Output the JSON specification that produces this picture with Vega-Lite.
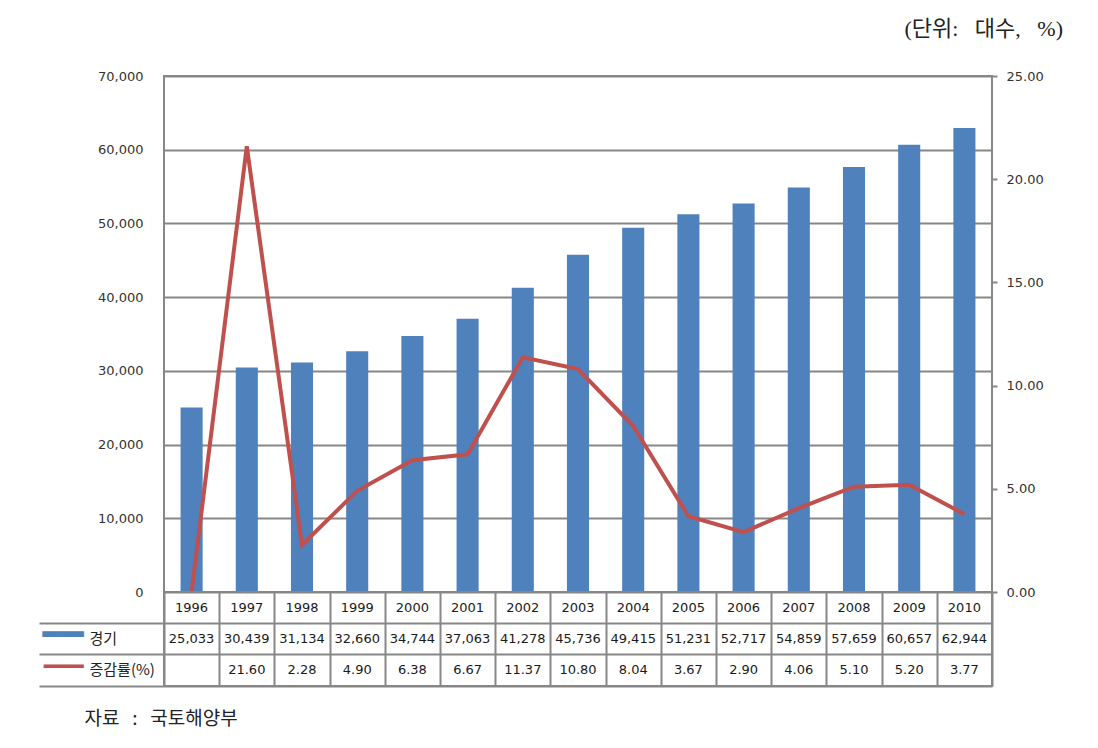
{
  "$schema": "https://vega.github.io/schema/vega-lite/v6.json",
  "padding": {"left": 37, "top": 17, "right": 5, "bottom": 5},
  "background": "white",
  "datasets": {
    "cars": [
      {"year": "1996", "count": 25033, "rate": 0},
      {"year": "1997", "count": 30439, "rate": 21.60},
      {"year": "1998", "count": 31134, "rate": 2.28},
      {"year": "1999", "count": 32660, "rate": 4.90},
      {"year": "2000", "count": 34744, "rate": 6.38},
      {"year": "2001", "count": 37063, "rate": 6.67},
      {"year": "2002", "count": 41278, "rate": 11.37},
      {"year": "2003", "count": 45736, "rate": 10.80},
      {"year": "2004", "count": 49415, "rate": 8.04},
      {"year": "2005", "count": 51231, "rate": 3.67},
      {"year": "2006", "count": 52717, "rate": 2.90},
      {"year": "2007", "count": 54859, "rate": 4.06},
      {"year": "2008", "count": 57659, "rate": 5.10},
      {"year": "2009", "count": 60657, "rate": 5.20},
      {"year": "2010", "count": 62944, "rate": 3.77}
    ]
  },
  "data": {"name": "cars"},
  "bounds": "flush",
  "spacing": 0,
  "vconcat": [
    {
      "width": 828,
      "height": 516,
      "title": {
        "text": "(단위:\u00a0\u00a0\u00a0대수,\u00a0\u00a0\u00a0%)",
        "anchor": "end",
        "frame": "group",
        "dx": 71,
        "offset": 29,
        "font": "Liberation Serif, Noto Sans CJK KR",
        "fontSize": 22,
        "fontWeight": "normal",
        "color": "#222222"
      },
      "layer": [
        {
          "mark": {"type": "bar", "color": "#4F81BD", "width": {"band": 0.4}},
          "encoding": {
            "x": {"field": "year", "type": "ordinal", "scale": {"type": "band", "paddingInner": 0, "paddingOuter": 0}, "axis": null},
            "y": {
              "field": "count", "type": "quantitative",
              "scale": {"domain": [0, 70000], "nice": false},
              "axis": {
                "values": [0, 10000, 20000, 30000, 40000, 50000, 60000, 70000],
                "labelExpr": "format(datum.value, ',')",
                "labelPadding": 21,
                "ticks": false,
                "domain": false,
                "grid": true,
                "gridColor": "#878787",
                "gridWidth": 2,
                "title": null
              }
            }
          }
        },
        {
          "mark": {"type": "line", "color": "#C0504D", "strokeWidth": 4},
          "encoding": {
            "x": {"field": "year", "type": "ordinal", "axis": null},
            "y": {
              "field": "rate", "type": "quantitative",
              "scale": {"domain": [0, 25], "nice": false},
              "axis": {
                "orient": "right",
                "values": [0, 5, 10, 15, 20, 25],
                "format": ".2f",
                "ticks": true,
                "tickSize": 5,
                "tickColor": "#878787",
                "tickWidth": 2,
                "labelPadding": 9,
                "domain": false,
                "grid": false,
                "title": null
              }
            }
          }
        }
      ],
      "resolve": {"scale": {"y": "independent"}}
    },
    {
      "width": 828,
      "height": 94,
      "layer": [
        {
          "layer": [
            {
              "mark": {"type": "text", "font": "DejaVu Sans", "fontSize": 13, "color": "#1a1a1a"},
              "encoding": {
                "x": {
                  "field": "year", "type": "ordinal",
                  "scale": {"type": "band", "paddingInner": 0, "paddingOuter": 0},
                  "axis": {
                    "orient": "bottom",
                    "labels": false,
                    "ticks": false,
                    "domain": false,
                    "grid": true,
                    "tickBand": "extent",
                    "gridColor": "#878787",
                    "gridWidth": 2,
                    "title": "자료\u00a0\u00a0\u00a0:\u00a0\u00a0\u00a0국토해양부",
                    "titleFont": "Noto Sans CJK KR",
                    "titleFontSize": 19,
                    "titleFontWeight": "normal",
                    "titleColor": "#222222",
                    "titleAnchor": "start",
                    "titleAlign": "left",
                    "titleBaseline": "middle",
                    "titleX": -80,
                    "titleY": 32
                  }
                },
                "y": {
                  "datum": "h", "type": "nominal",
                  "scale": {"type": "band", "domain": ["h", "경기", "증감률(%)"], "paddingInner": 0, "paddingOuter": 0},
                  "axis": {
                    "orient": "left",
                    "bandPosition": 1,
                    "labelExpr": "datum.value == 'h' ? '' : datum.value",
                    "labelAlign": "left",
                    "labelBaseline": "middle",
                    "labelPadding": -50,
                    "labelFont": "Noto Sans CJK KR",
                    "labelFontSize": 15,
                    "labelColor": "#222222",
                    "ticks": true,
                    "tickSize": 125,
                    "tickColor": "#878787",
                    "tickWidth": 2,
                    "domain": false,
                    "grid": true,
                    "gridColor": "#878787",
                    "gridWidth": 2,
                    "title": null
                  }
                },
                "text": {"field": "year"}
              }
            },
            {
              "mark": {"type": "text", "font": "DejaVu Sans", "fontSize": 13, "color": "#1a1a1a"},
              "encoding": {
                "x": {"field": "year", "type": "ordinal"},
                "y": {"datum": "경기", "type": "nominal"},
                "text": {"field": "count", "format": ","}
              }
            }
          ]
        },
        {
          "transform": [{"filter": "datum.rate > 0"}],
          "mark": {"type": "text", "font": "DejaVu Sans", "fontSize": 13, "color": "#1a1a1a"},
          "encoding": {
            "x": {"field": "year", "type": "ordinal"},
            "y": {
              "datum": "증감률(%)", "type": "nominal",
              "scale": {"type": "band", "domain": ["h", "경기", "증감률(%)"], "paddingInner": 0, "paddingOuter": 0},
              "axis": {
                "orient": "left",
                "labelExpr": "datum.value == '경기' ? '━━' : datum.value == '증감률(%)' ? '━━━' : ''",
                "labelFont": "DejaVu Sans",
                "labelFontSize": {"condition": {"test": "datum.value == '경기'", "value": 34}, "value": 22},
                "labelColor": {"condition": {"test": "datum.value == '경기'", "value": "#4F81BD"}, "value": "#C0504D"},
                "labelOffset": -3,
                "labelPadding": 81,
                "ticks": false,
                "tickSize": 0,
                "domain": false,
                "grid": false,
                "title": null
              }
            },
            "text": {"field": "rate", "format": ".2f"}
          }
        }
      ],
      "resolve": {"scale": {"y": "independent"}}
    }
  ],
  "config": {
    "view": {"stroke": "#878787", "strokeWidth": 2},
    "axis": {"labelFont": "DejaVu Sans", "labelFontSize": 13, "labelColor": "#333333"}
  }
}
